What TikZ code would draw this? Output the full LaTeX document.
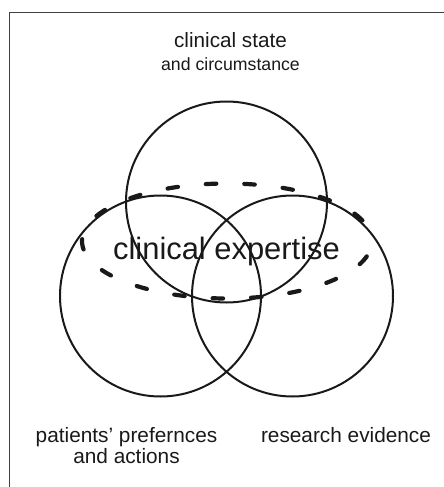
\documentclass[tikz,border=0pt]{standalone}
\usepackage{fontspec}
\setmainfont{Liberation Sans}
\begin{document}
\begin{tikzpicture}[x=1pt,y=-1pt,
  ink/.style={color=black!90},
  ring/.style={draw=black!90, line width=2pt, circle, minimum size=201pt, inner sep=0pt},
  label/.style={ink, anchor=base, inner sep=0pt},
  frameline/.style={draw=black!75, line width=1.5pt},
  expertise/.style={draw=black!90, line width=4.2pt, dash pattern=on 10.5pt off 28pt, dash phase=22pt, line cap=round}]
\useasboundingbox (0,0) rectangle (444,487);
% open frame running off the right and bottom edges
\coordinate (fb) at (9.5,490);
\coordinate (fc) at (9.5,12.5);
\coordinate (fr) at (447,12.5);
\draw[frameline] (fb) -- (fc) -- (fr);
% the three overlapping circles
\node[ring] (state) at (226.5,202) {};
\node[ring] (patients) at (160.5,296) {};
\node[ring] (research) at (292.5,296) {};
% dashed ellipse of clinical expertise
\coordinate (ec) at (227,241);
\draw[expertise] (ec) ellipse [x radius=145, y radius=57.5];
% labels
\node[label, font=\fontsize{20.7}{24}\selectfont] (t1) at (230.5,48) {clinical state};
\node[label, font=\fontsize{17.7}{21}\selectfont] (t2) at (230.5,70.5) {and circumstance};
\node[label, font=\fontsize{30.9}{36}\selectfont] (t3) at (226.5,259) {clinical expertise};
\node[label, font=\fontsize{20.8}{24}\selectfont] (t4) at (126.5,442) {patients’ prefernces};
\node[label, font=\fontsize{20.8}{24}\selectfont] (t5) at (126.5,463) {and actions};
\node[label, font=\fontsize{20.8}{24}\selectfont] (t6) at (346,442) {research evidence};
\end{tikzpicture}
\end{document}
